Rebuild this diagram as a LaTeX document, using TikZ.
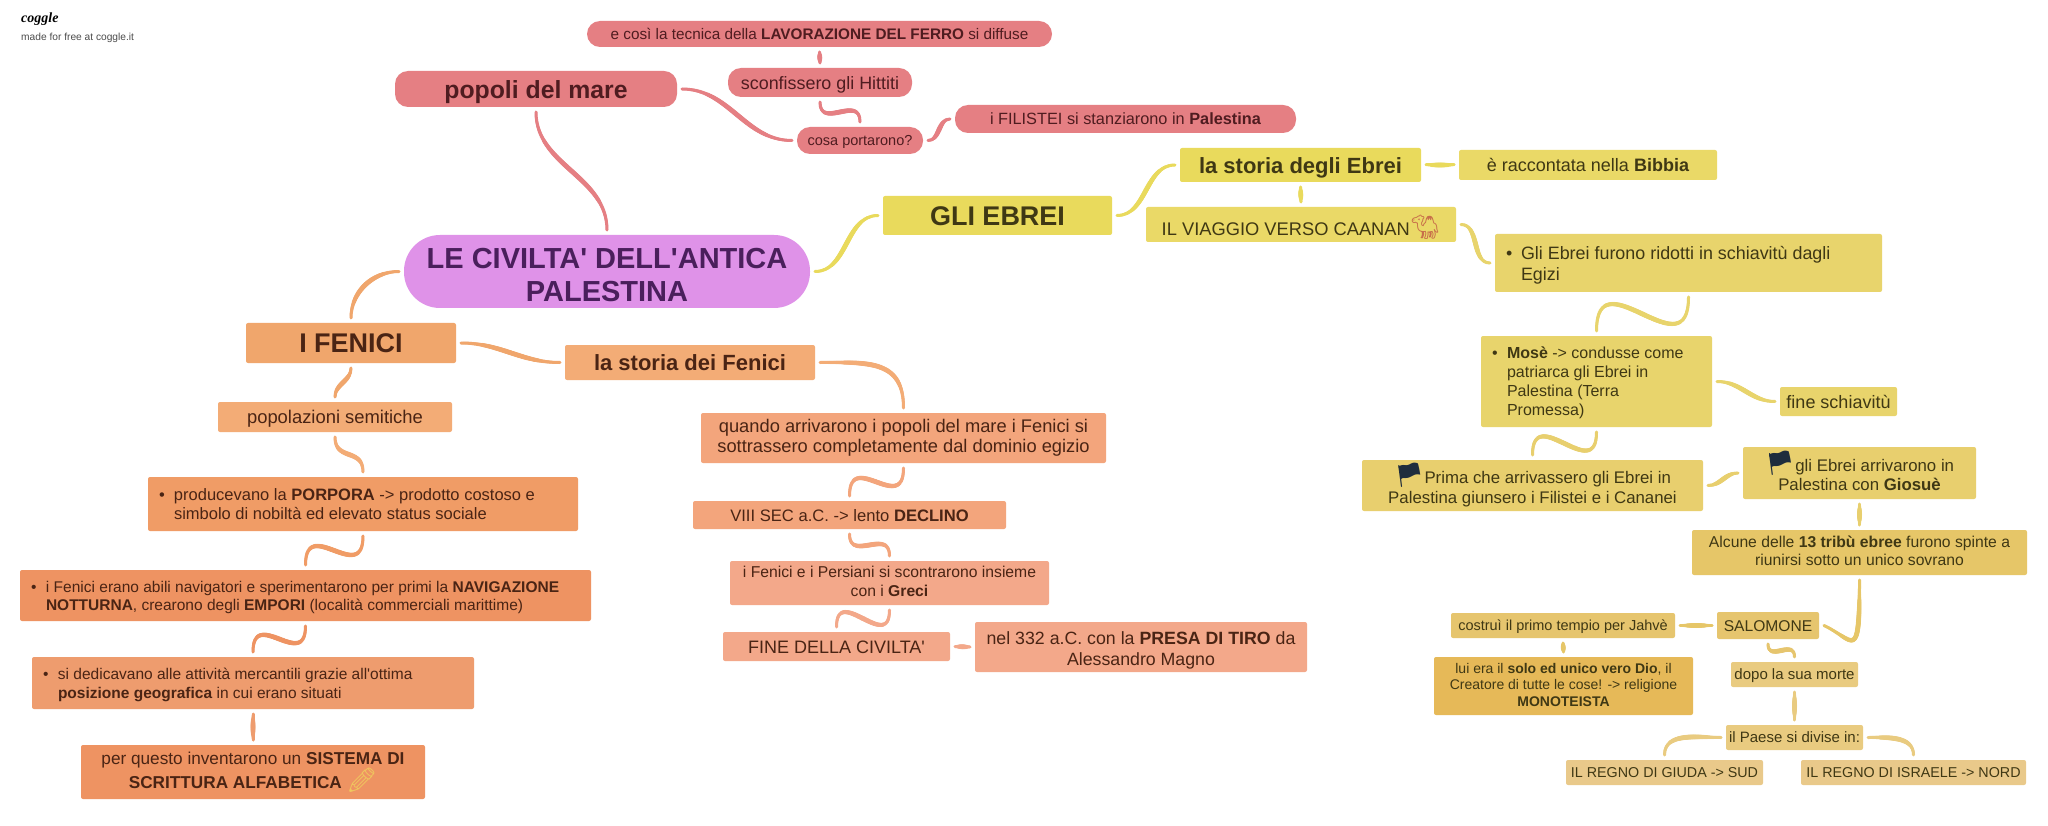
\documentclass[tikz,border=0pt]{standalone}
\usepackage{fontspec}
\usepackage{xcolor}
\setmainfont{Liberation Sans}
\newfontfamily\emojifont{Noto Emoji}
\newfontfamily\logofont{Liberation Serif}
\usetikzlibrary{decorations.markings}
\definecolor{plumfill}{HTML}{DF92E8}
\definecolor{plumtext}{HTML}{4A1F5C}
\definecolor{redfill}{HTML}{E57F83}
\definecolor{redtext}{HTML}{4F1C20}
\definecolor{yelA}{HTML}{E9DA5C}
\definecolor{yelB}{HTML}{EAD967}
\definecolor{yelC}{HTML}{E8D46C}
\definecolor{yelD}{HTML}{E8CF6E}
\definecolor{yelE}{HTML}{E6C668}
\definecolor{yelF}{HTML}{E6C56E}
\definecolor{yelG}{HTML}{E6B958}
\definecolor{yelH}{HTML}{E9CB80}
\definecolor{yelI}{HTML}{E9C98A}
\definecolor{yeltext}{HTML}{3F3814}
\definecolor{oraA}{HTML}{F0A66C}
\definecolor{oraB}{HTML}{F3AC76}
\definecolor{oraC}{HTML}{F09C66}
\definecolor{oraD}{HTML}{EE9362}
\definecolor{oraE}{HTML}{EE9C6E}
\definecolor{oraF}{HTML}{F3A57C}
\definecolor{oraG}{HTML}{F3A88A}
\definecolor{oratext}{HTML}{4A2414}
\definecolor{flagnavy}{HTML}{1F2D3D}
\definecolor{camelred}{HTML}{C8704A}
\definecolor{pencilyel}{HTML}{EFC75E}
\newcommand{\bulletline}{\makebox[15pt][l]{\textbullet}}
\newcommand{\bulletnext}{\hspace*{15pt}}
\newcommand{\pic}[2]{\rule{0pt}{20pt}\smash{\fontsize{24}{24}\selectfont\emojifont\color{#1}#2}}
\begin{document}
\begin{tikzpicture}[x=1pt,y=1pt,
  box/.style 2 args={rectangle,rounded corners=2pt,fill=#1,text=#2,inner sep=0pt,outer sep=5pt,align=center,
    execute at begin node={\rule[-.22em]{0pt}{1.17em}},execute at end node={\rule[-.22em]{0pt}{0pt}}},
  sz/.style 2 args={font=\fontsize{#1}{#2}\selectfont},
  dim/.style 2 args={minimum width=#1pt,minimum height=#2pt},
  bul/.style 2 args={align=flush left,text width=#1pt,inner xsep=11pt,minimum height=#2pt},
  pill/.style={rounded corners=13pt},
  link/.style={draw=#1,line width=3pt,line cap=round,postaction={decorate},
    decoration={markings,mark=between positions 0 and 1 step 1pt with {
      \pgfmathsetmacro{\wid}{1.2+1.3*sin(180*(\pgfkeysvalueof{/pgf/decoration/mark info/distance from start}/\pgfdecoratedpathlength))}
      \fill[#1] (0,0) circle (\wid pt);}}}]
  \useasboundingbox (0,0) rectangle (2048,-826);
  \fill[white] (0,0) rectangle (2048,-826);

  \node[anchor=west,inner sep=0pt,font=\logofont\itshape\bfseries\fontsize{14}{16}\selectfont] (logo) at (21,-19) {coggle};
  \node[anchor=west,inner sep=0pt,text=black!70,font=\fontsize{10.2}{12}\selectfont] (madefor) at (21,-38) {made for free at coggle.it};

  % centre
  \node[box={plumfill}{plumtext},dim={406}{73},rounded corners=36pt,font=\bfseries\fontsize{29}{33}\selectfont] (civilta) at (607,-271.5) {\rule{0pt}{33pt}LE CIVILTA\textquotesingle\ DELL\textquotesingle ANTICA\\PALESTINA};

  % popoli del mare
  \node[box={redfill}{redtext},pill,dim={282}{36},font=\bfseries\fontsize{24.8}{30}\selectfont] (popoli) at (536,-89) {popoli del mare};
  \node[box={redfill}{redtext},pill,dim={465}{26},sz={15.3}{18}] (ferro) at (819.5,-34) {e così la tecnica della \textbf{LAVORAZIONE DEL FERRO} si diffuse};
  \node[box={redfill}{redtext},pill,dim={184}{29},sz={17.9}{20}] (hittiti) at (820,-82.5) {sconfissero gli Hittiti};
  \node[box={redfill}{redtext},pill,dim={126}{27},sz={14.5}{17}] (portarono) at (860,-140.5) {cosa portarono?};
  \node[box={redfill}{redtext},pill,dim={341}{28},sz={16.3}{19}] (filistei) at (1125.5,-119) {i FILISTEI si stanziarono in \textbf{Palestina}};

  % gli ebrei
  \node[box={yelA}{yeltext},dim={229}{39},font=\bfseries\fontsize{27}{30}\selectfont] (ebrei) at (997.5,-215.5) {GLI EBREI};
  \node[box={yelA}{yeltext},dim={241}{34},font=\bfseries\fontsize{22}{25}\selectfont] (storiaebrei) at (1300.5,-165) {la storia degli Ebrei};
  \node[box={yelB}{yeltext},dim={258}{30},sz={18}{20}] (bibbia) at (1588,-165) {è raccontata nella \textbf{Bibbia}};
  \node[box={yelB}{yeltext},dim={310}{35},sz={18.3}{22}] (viaggio) at (1301,-224.5) {\rule{0pt}{26pt}IL VIAGGIO VERSO CAANAN\pic{camelred}{🐪}};
  \node[box={yelC}{yeltext},bul={365}{58},sz={17.9}{21}] (schiavi) at (1688.5,-263) {\bulletline Gli Ebrei furono ridotti in schiavitù dagli\\\bulletnext Egizi};
  \node[box={yelC}{yeltext},bul={209}{91},sz={16}{19}] (mose) at (1596.5,-381.5) {\bulletline\textbf{Mosè} -> condusse come\\\bulletnext patriarca gli Ebrei in\\\bulletnext Palestina (Terra\\\bulletnext Promessa)};
  \node[box={yelC}{yeltext},dim={117}{29},sz={18}{22}] (fineschiavi) at (1838.5,-401.5) {fine schiavitù};
  \node[box={yelD}{yeltext},dim={341}{51},sz={16.8}{19.5}] (prima) at (1532.5,-485.5) {\pic{flagnavy}{🏴}Prima che arrivassero gli Ebrei in\\Palestina giunsero i Filistei e i Cananei};
  \node[box={yelD}{yeltext},dim={233}{52},sz={16.8}{19}] (giosue) at (1859.5,-473) {\pic{flagnavy}{🏴}gli Ebrei arrivarono in\\Palestina con \textbf{Giosuè}};
  \node[box={yelE}{yeltext},dim={335}{45},sz={15.7}{18.5}] (tribu) at (1859.5,-552.5) {Alcune delle \textbf{13 tribù ebree} furono spinte a\\riunirsi sotto un unico sovrano};
  \node[box={yelF}{yeltext},dim={102}{27},sz={15.6}{17}] (salomone) at (1768,-625.5) {SALOMONE};
  \node[box={yelF}{yeltext},dim={224}{25},sz={14.5}{17}] (tempio) at (1563,-625.5) {costruì il primo tempio per Jahvè};
  \node[box={yelG}{yeltext},dim={259}{58},sz={14}{16.5}] (dio) at (1563.5,-686) {lui era il \textbf{solo ed unico vero Dio}, il\\Creatore di tutte le cose! -> religione\\\textbf{MONOTEISTA}};
  \node[box={yelH}{yeltext},dim={127}{25},sz={15}{17}] (morte) at (1794.5,-674.5) {dopo la sua morte};
  \node[box={yelH}{yeltext},dim={137}{25},sz={15}{17}] (paese) at (1794.5,-737.5) {il Paese si divise in:};
  \node[box={yelI}{yeltext},dim={197}{25},sz={14.3}{17}] (giuda) at (1664.5,-772.5) {IL REGNO DI GIUDA -> SUD};
  \node[box={yelI}{yeltext},dim={225}{25},sz={14.3}{17}] (israele) at (1913.5,-772.5) {IL REGNO DI ISRAELE -> NORD};

  % i fenici
  \node[box={oraA}{oratext},dim={210}{40},font=\bfseries\fontsize{27}{28}\selectfont] (fenici) at (351,-343) {I FENICI};
  \node[box={oraB}{oratext},dim={250}{35},font=\bfseries\fontsize{22}{25}\selectfont] (storiafenici) at (690,-362.5) {la storia dei Fenici};
  \node[box={oraB}{oratext},dim={234}{30},sz={18.4}{20}] (semitiche) at (335,-417) {popolazioni semitiche};
  \node[box={oraC}{oratext},bul={408}{54},sz={16.5}{19.5}] (porpora) at (363,-504) {\bulletline producevano la \textbf{PORPORA} -> prodotto costoso e\\\bulletnext simbolo di nobiltà ed elevato status sociale};
  \node[box={oraD}{oratext},bul={549}{51},sz={15.5}{18}] (notturna) at (305.5,-595.5) {\bulletline i Fenici erano abili navigatori e sperimentarono per primi la \textbf{NAVIGAZIONE}\\\bulletnext\textbf{NOTTURNA}, crearono degli \textbf{EMPORI} (località commerciali marittime)};
  \node[box={oraE}{oratext},bul={420}{52},sz={15.5}{19}] (mercantili) at (253,-683) {\bulletline si dedicavano alle attività mercantili grazie all\textquotesingle ottima\\\bulletnext\textbf{posizione geografica} in cui erano situati};
  \node[box={oraD}{oratext},dim={344}{54},sz={17.2}{24}] (scrittura) at (253,-772) {per questo inventarono un \textbf{SISTEMA DI}\\\textbf{SCRITTURA ALFABETICA} \reflectbox{\pic{pencilyel}{✏}}};
  \node[box={oraF}{oratext},dim={405}{50},sz={18.3}{20.5}] (dominio) at (903.5,-438) {quando arrivarono i popoli del mare i Fenici si\\sottrassero completamente dal dominio egizio};
  \node[box={oraF}{oratext},dim={313}{28},sz={16.6}{19}] (declino) at (849.5,-515) {VIII SEC a.C. -> lento \textbf{DECLINO}};
  \node[box={oraG}{oratext},dim={319}{44},sz={15.7}{18.5}] (persiani) at (889.5,-583) {i Fenici e i Persiani si scontrarono insieme\\con i \textbf{Greci}};
  \node[box={oraG}{oratext},dim={227}{29},sz={18}{19}] (finecivilta) at (836.5,-646.5) {FINE DELLA CIVILTA\textquotesingle};
  \node[box={oraG}{oratext},dim={332}{50},sz={17.75}{20.5}] (tiro) at (1141,-647) {\rule{0pt}{20pt}nel 332 a.C. con la \textbf{PRESA DI TIRO} da\\Alessandro Magno};

  % connectors
  \draw[link=redfill] (civilta.north) to[out=90,in=-90] (popoli.south);
  \draw[link=redfill] (popoli.east) to[out=0,in=180] (portarono.west);
  \draw[link=redfill] (portarono.north) to[out=90,in=-90,looseness=1.6] (hittiti.south);
  \draw[link=redfill] (hittiti.north) -- (ferro.south);
  \draw[link=redfill] (portarono.east) to[out=0,in=180] (filistei.west);
  \draw[link=yelA] (civilta.east) to[out=0,in=180] (ebrei.west);
  \draw[link=yelA] (ebrei.east) to[out=0,in=180] (storiaebrei.west);
  \draw[link=yelA] (storiaebrei.east) -- (bibbia.west);
  \draw[link=yelA] (storiaebrei.south) -- (viaggio.north);
  \draw[link=yelC] (viaggio.east) to[out=0,in=180] (schiavi.west);
  \draw[link=yelC] (schiavi.south) to[out=-90,in=90,looseness=2] (mose.north);
  \draw[link=yelC] (mose.east) to[out=0,in=180] (fineschiavi.west);
  \draw[link=yelD] (mose.south) to[out=-90,in=90,looseness=2] (prima.north);
  \draw[link=yelD] (giosue.west) to[out=180,in=0] (prima.east);
  \draw[link=yelD] (giosue.south) -- (tribu.north);
  \draw[link=yelE] (tribu.south) .. controls +(0,-85) and +(30,-14) .. (salomone.east);
  \draw[link=yelE] (salomone.west) -- (tempio.east);
  \draw[link=yelE] (tempio.south) -- (dio.north);
  \draw[link=yelF] (salomone.south) to[out=-90,in=90,looseness=1.6] (morte.north);
  \draw[link=yelH] (morte.south) -- (paese.north);
  \draw[link=yelH] (paese.west) to[out=180,in=90] (giuda.north);
  \draw[link=yelH] (paese.east) to[out=0,in=90] (israele.north);
  \draw[link=oraA] (civilta.west) to[out=180,in=90] (fenici.north);
  \draw[link=oraA] (fenici.east) to[out=0,in=180] (storiafenici.west);
  \draw[link=oraA] (fenici.south) to[out=-90,in=90] (semitiche.north);
  \draw[link=oraB] (storiafenici.east) to[out=0,in=90,looseness=1.3] (dominio.north);
  \draw[link=oraB] (semitiche.south) to[out=-90,in=90,looseness=1.4] (porpora.north);
  \draw[link=oraC] (porpora.south) to[out=-90,in=90,looseness=2] (notturna.north);
  \draw[link=oraD] (notturna.south) to[out=-90,in=90,looseness=2] (mercantili.north);
  \draw[link=oraE] (mercantili.south) -- (scrittura.north);
  \draw[link=oraF] (dominio.south) to[out=-90,in=90,looseness=2] (declino.north);
  \draw[link=oraF] (declino.south) to[out=-90,in=90,looseness=1.6] (persiani.north);
  \draw[link=oraG] (persiani.south) to[out=-90,in=90,looseness=2] (finecivilta.north);
  \draw[link=oraG] (finecivilta.east) -- (tiro.west);
\end{tikzpicture}
\end{document}
